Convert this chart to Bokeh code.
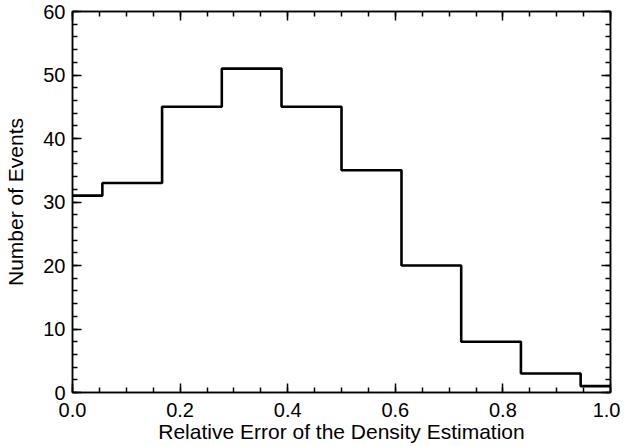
from bokeh.plotting import figure
from bokeh.models import LinearAxis, SingleIntervalTicker, Range1d, PrintfTickFormatter, CustomJSTickFormatter
from bokeh.embed import file_html
from bokeh.resources import INLINE

bin_centers = [0.0, 0.111, 0.222, 0.333, 0.444, 0.556, 0.667, 0.778, 0.889, 1.0]
counts = [31, 33, 45, 51, 45, 35, 20, 8, 3, 1]

FONT = "Liberation Sans"

p = figure(width=620, height=446, output_backend="svg", toolbar_location=None,
           x_range=Range1d(0, 1.0), y_range=Range1d(0, 60),
           x_axis_location=None, y_axis_location=None,
           min_border_left=72, min_border_right=10, min_border_top=11, min_border_bottom=54)
p.grid.visible = False
p.outline_line_color = "black"
p.outline_line_width = 1.5

p.step(bin_centers, counts, mode="center", line_color="black", line_width=2.6)

def style(ax, labels=True):
    ax.axis_line_color = "black"
    ax.axis_line_width = 1.5
    ax.major_tick_line_color = "black"
    ax.minor_tick_line_color = "black"
    ax.major_tick_line_width = 1.5
    ax.minor_tick_line_width = 1.5
    ax.major_tick_in = 9
    ax.major_tick_out = 0
    ax.minor_tick_in = 5
    ax.minor_tick_out = 0
    ax.major_label_text_font = FONT
    ax.major_label_text_color = "black"
    ax.axis_label_text_color = "black"
    ax.axis_label_text_font = FONT
    ax.axis_label_text_font_size = "21px"
    ax.axis_label_text_font_style = "normal"
    ax.major_label_text_font_size = "20px"
    if not labels:
        ax.formatter = CustomJSTickFormatter(code="return '';")
        ax.major_label_standoff = 0

xb = LinearAxis(ticker=SingleIntervalTicker(interval=0.2, num_minor_ticks=4),
                formatter=PrintfTickFormatter(format="%.1f"),
                axis_label="Relative Error of the Density Estimation")
style(xb)
xb.major_label_standoff = 10
xb.axis_label_standoff = 0
p.add_layout(xb, "below")

xt = LinearAxis(ticker=SingleIntervalTicker(interval=0.2, num_minor_ticks=4))
style(xt, labels=False)
p.add_layout(xt, "above")

yl = LinearAxis(ticker=SingleIntervalTicker(interval=10, num_minor_ticks=5),
                axis_label="Number of Events")
style(yl)
yl.major_label_standoff = 7
yl.axis_label_standoff = 13
p.add_layout(yl, "left")

yr = LinearAxis(ticker=SingleIntervalTicker(interval=10, num_minor_ticks=5))
style(yr, labels=False)
p.add_layout(yr, "right")

open("out.html", "w").write(file_html(p, INLINE))
